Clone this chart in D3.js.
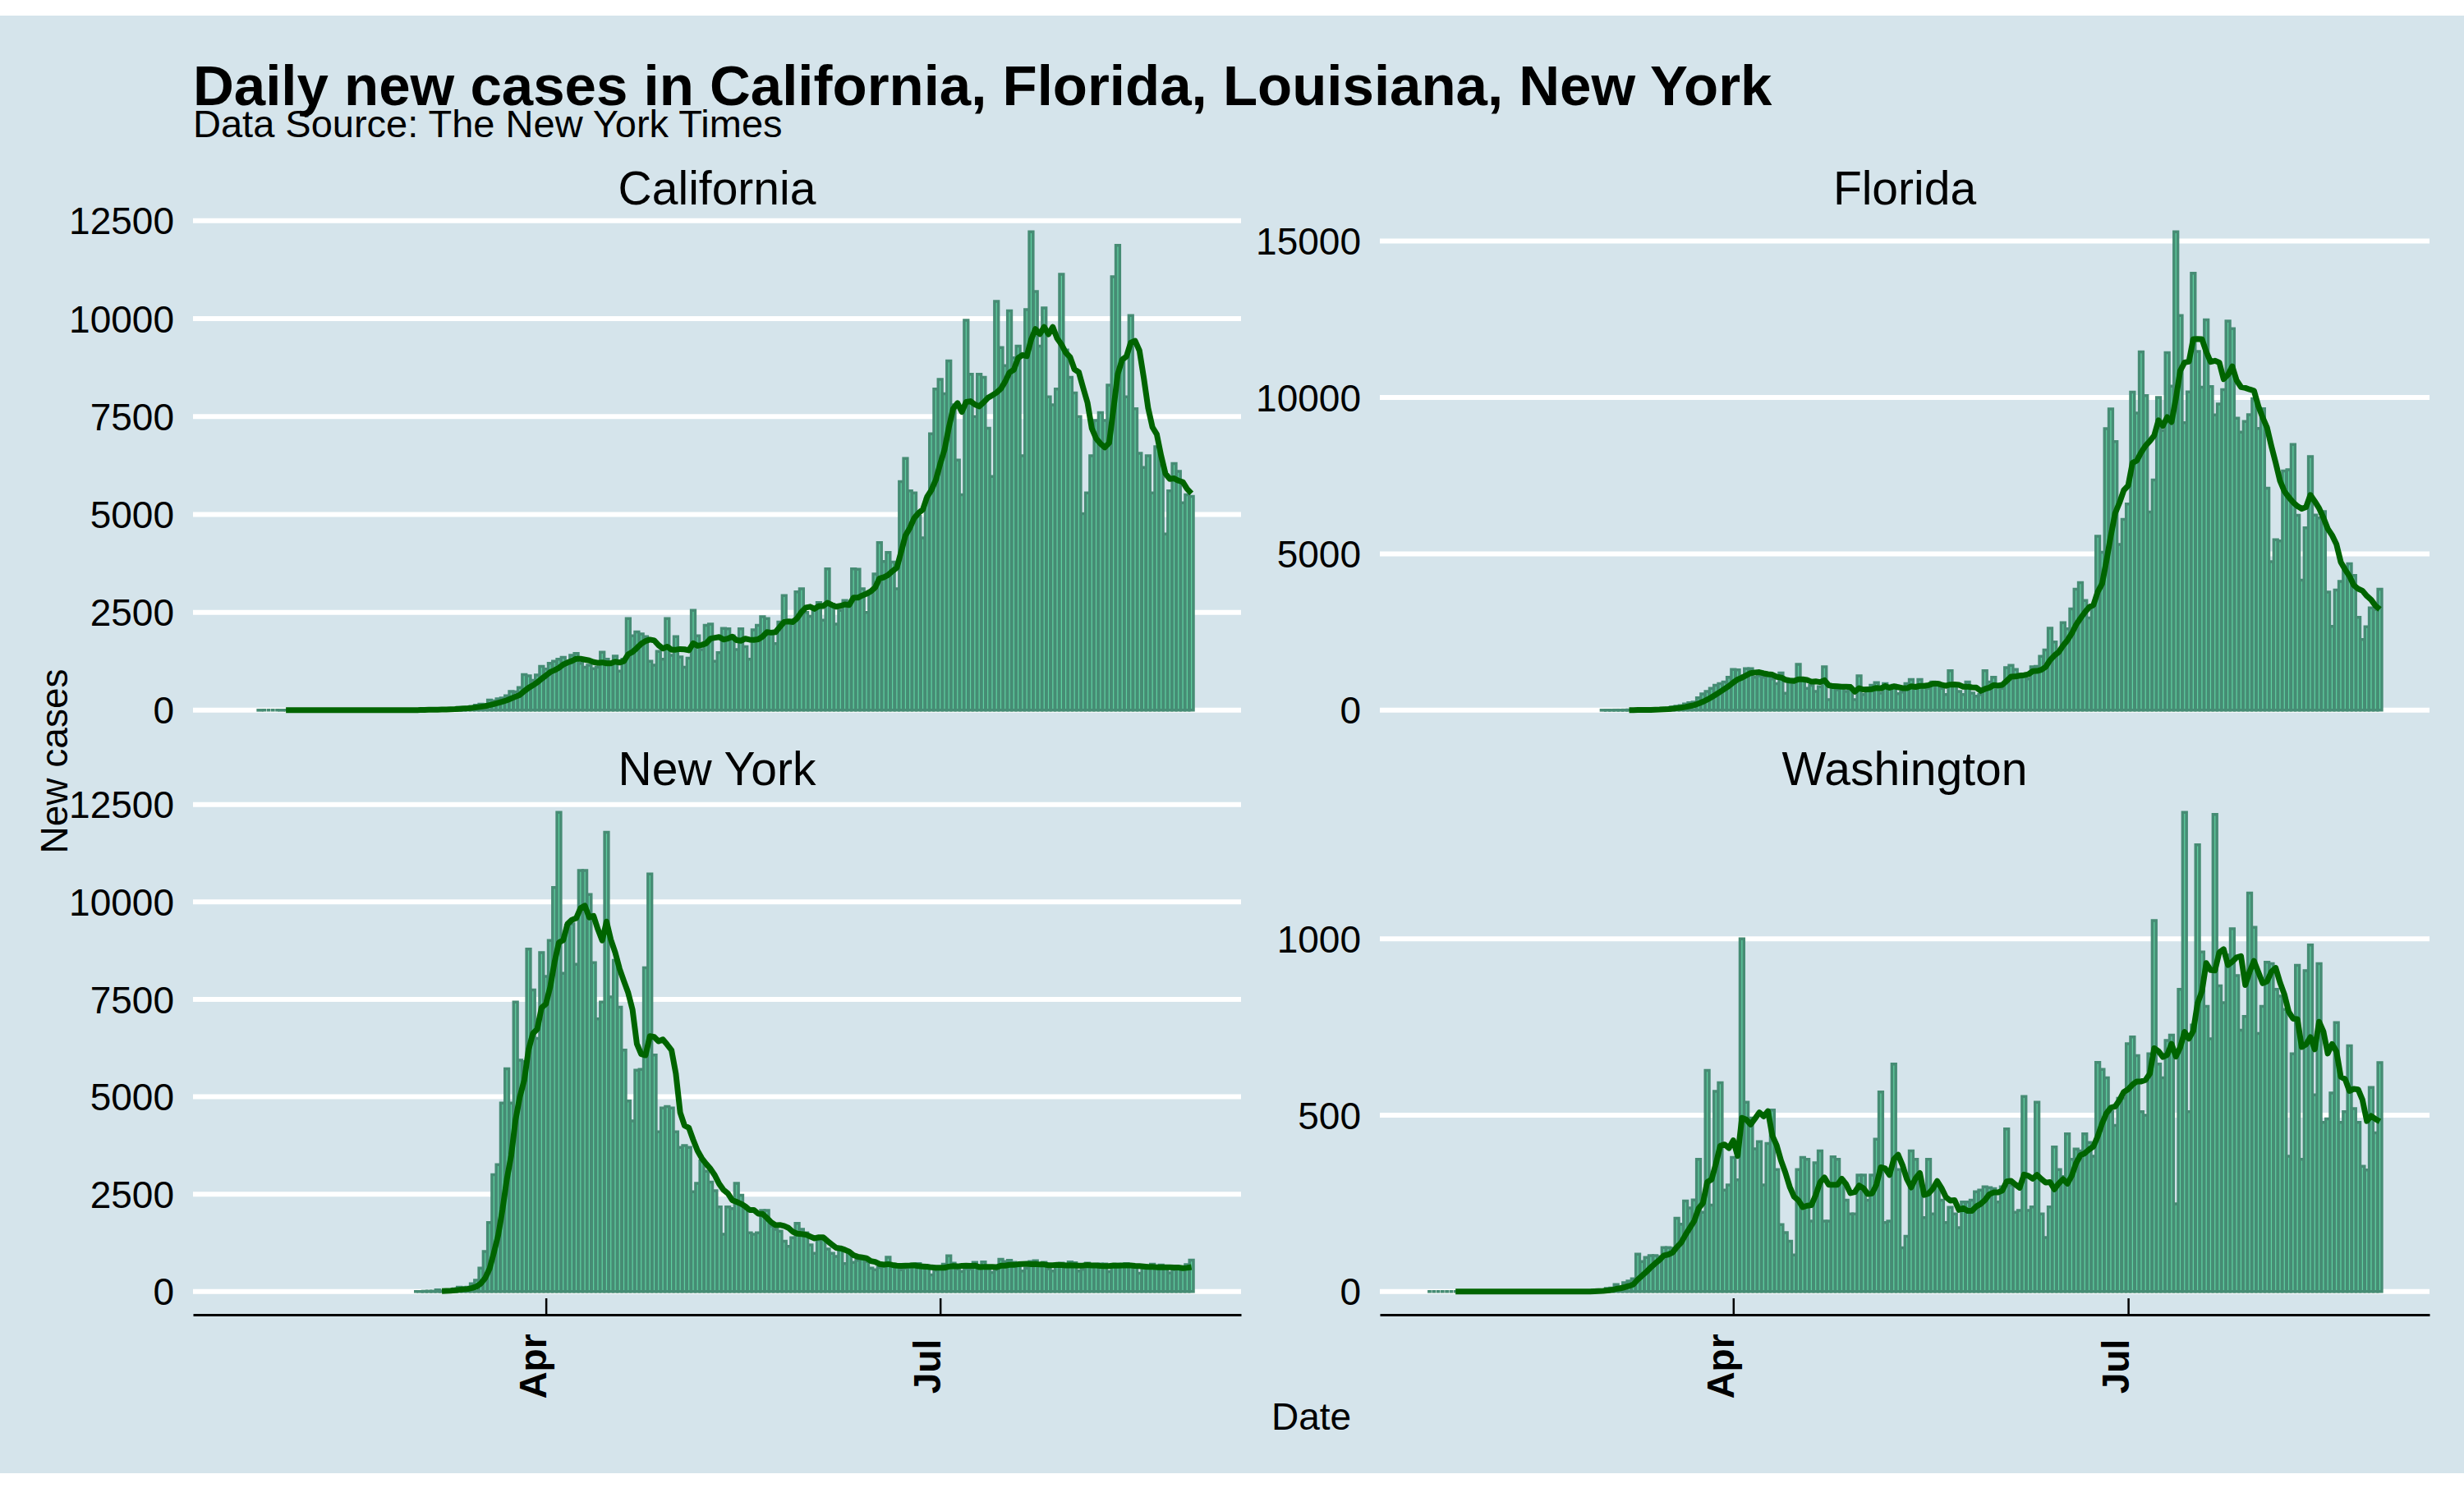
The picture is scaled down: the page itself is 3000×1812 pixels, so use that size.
<!DOCTYPE html>
<html>
<head>
<meta charset="utf-8">
<script src="https://cdn.jsdelivr.net/npm/d3@7/dist/d3.min.js"></script>
<style>
html,body{margin:0;padding:0;background:#ffffff;}
svg{display:block;font-family:"Liberation Sans",Arial,Helvetica,sans-serif;}
</style>
</head>
<body>
<svg id="chart" width="3000" height="1812"></svg>
<script>
// ---------------- data ----------------
const stateNames = ["California", "Florida", "New York", "Washington"];
const chartTitle = "Daily new cases in California, Florida, Louisiana, New York";
const chartSubtitle = "Data Source: The New York Times";
const xAxisTitle = "Date";
const yAxisTitle = "New cases";

const caStart = "2020-01-26";
const caCases = [
  1,0,0,0,0,1,
  0,3,0,0,0,0,0,0,0,0,0,0,0,0,0,0,0,0,0,1,2,0,0,0,0,2,1,2,3,
  7,12,10,18,20,15,25,22,30,45,40,70,65,75,90,130,155,150,260,240,290,310,370,480,470,580,910,880,760,900,1120,
  1050,1200,1250,1300,1350,1250,1400,1450,1200,1100,1150,1060,1100,1480,1300,1200,1380,1000,1300,2340,1900,2000,1950,1880,1250,1150,1500,1300,2340,1400,
  1880,1360,1100,1330,2550,1900,1550,2170,2200,1250,1470,2090,2080,1900,1550,2080,1620,1300,2050,2170,2390,2340,2000,1700,2250,2930,2250,2300,3020,3100,2500,
  2400,2550,2750,2300,3610,2700,2200,2550,2800,2650,3610,3600,3100,2500,3000,3480,4280,3800,4030,3780,3100,5840,6430,5600,5550,4950,4400,5400,7060,8200,
  8450,8080,8920,7800,6390,5500,9960,8580,7500,8580,8500,7200,5970,10440,9260,8800,10200,9000,9300,6500,10230,12220,10690,9300,10270,8000,7800,8200,11130,9200,8500,
  8100,7500,5020,5550,6500,7400,7600,7400,8300,11070,11870,9000,8000,10080,7700,6560,6200,6500,5550,6730,6260,4500,5600,6300,6100,5300,5500,5460
];

const flStart = "2020-03-02";
const flCases = [
  2,3,2,5,4,7,10,5,13,7,20,25,40,35,55,70,100,130,150,200,240,260,400,520,600,700,800,850,900,1050,
  1300,1290,1100,1330,1330,1050,1100,1050,1100,1000,850,1190,540,900,980,1465,1000,700,800,600,750,1390,340,800,650,750,600,680,340,1100,
  500,700,800,880,550,850,760,800,530,580,850,980,720,980,800,700,900,880,700,500,1260,820,600,500,900,550,450,500,1260,900,1050,
  800,700,1360,1435,1300,1100,1150,1000,1390,1400,1720,1925,2620,2180,1800,2800,2600,3240,3870,4080,3510,2950,3300,5560,5050,9000,9630,8590,5300,6100,
  6590,10170,9500,11460,10060,6340,7360,10000,8940,11430,10360,15300,12620,9190,10180,13970,11470,10330,12480,10350,9440,9790,10250,12440,12200,9340,8890,9230,9450,9960,9010,
  9640,7100,4750,5450,5410,7650,7690,8500,6230,4160,5830,8110,6240,6150,6350,3780,2680,3840,4120,4560,4680,4310,2970,2260,2670,3270,3220,3870
];

const nyStart = "2020-03-02";
const nyCases = [
  0,1,9,11,11,44,16,37,31,70,112,95,110,200,290,600,1030,1770,3000,3260,4840,5720,4840,7430,5940,5900,8790,7740,6500,8700,
  8090,9010,10370,12300,8170,9400,9440,8400,10810,10810,10190,8440,7000,7430,11790,7560,8500,7300,6200,4890,4380,5680,5700,8310,10720,6070,4100,4710,4750,4710,
  4100,3700,3750,3700,2560,2780,3350,3090,2810,2590,2170,1470,2170,2130,2780,2470,2130,1510,1470,1510,2080,2080,1680,1600,1550,1290,1160,1380,1750,1600,1510,
  1200,980,1330,1380,1090,980,900,1110,720,1000,750,800,850,770,600,560,620,650,880,700,660,560,600,630,700,720,650,620,430,550,
  620,700,920,730,580,520,590,580,750,660,760,590,490,560,830,770,800,750,700,530,600,770,790,720,750,580,530,670,730,700,760,
  740,530,570,730,650,700,710,710,510,680,700,680,720,690,640,470,600,630,700,650,680,620,480,560,620,620,690,810
];

const waStart = "2020-01-22";
const waCases = [
  0,0,0,0,0,0,0,0,0,0,
  0,0,0,0,0,0,0,0,0,0,0,0,0,0,0,0,0,0,0,0,0,0,0,0,0,0,0,1,4,
  5,4,9,10,20,14,25,30,36,106,85,97,102,102,99,125,125,123,208,191,257,237,260,375,225,627,245,568,592,288,302,
  380,317,1000,537,492,405,425,302,420,515,346,190,167,143,104,346,380,375,200,365,399,200,200,382,375,318,259,220,220,330,
  330,259,330,432,566,196,200,645,346,124,157,399,375,307,210,375,220,307,259,196,239,220,181,254,254,259,283,288,297,295,292,
  254,297,461,302,225,230,553,230,240,537,220,153,240,410,346,326,447,375,404,399,447,423,384,650,630,606,510,471,548,548,
  703,722,669,510,500,674,1052,645,606,712,727,249,857,1359,510,756,1267,963,809,717,1353,867,819,954,1029,896,741,780,1130,1033,732,
  809,934,930,857,838,800,384,674,925,375,910,983,558,930,480,490,563,763,480,510,697,519,480,355,345,579,450,649
];

const caTicks = [0, 2500, 5000, 7500, 10000, 12500];
const flTicks = [0, 5000, 10000, 15000];
const nyTicks = [0, 2500, 5000, 7500, 10000, 12500];
const waTicks = [0, 500, 1000];

const xTickDates = ["2020-04-01", "2020-07-01"];
const xTickLabels = ["Apr", "Jul"];

// ---------------- drawing ----------------
const FONT = '"Liberation Sans", Arial, Helvetica, sans-serif';
const W = 3000, H = 1812;
const svg = d3.select("#chart");
const parse = d3.utcParse("%Y-%m-%d");
const DAY = 864e5;

svg.append("rect").attr("x", 0).attr("y", 19).attr("width", W).attr("height", 1775).attr("fill", "#d5e4eb");

const series = [
  {name: stateNames[0], start: caStart, values: caCases, ticks: caTicks},
  {name: stateNames[1], start: flStart, values: flCases, ticks: flTicks},
  {name: stateNames[2], start: nyStart, values: nyCases, ticks: nyTicks},
  {name: stateNames[3], start: waStart, values: waCases, ticks: waTicks}
].map(s => {
  const s0 = parse(s.start);
  const rows = s.values.map((v, i) => ({date: new Date(+s0 + i * DAY), value: v}));
  const ma = [];
  for (let i = 6; i < rows.length; i++) {
    ma.push({date: rows[i].date, value: d3.mean(rows.slice(i - 6, i + 1), r => r.value)});
  }
  return Object.assign({}, s, {rows, ma});
});

const allDates = series.flatMap(s => s.rows.map(r => +r.date));
const lo = d3.min(allDates) - 0.45 * DAY, hi = d3.max(allDates) + 0.45 * DAY;
const pad = 0.05 * (hi - lo);

const colX = [[235, 1511], [1680, 2958]];
const rowY = [[253, 894], [960, 1602]];

// title & subtitle
svg.append("text").attr("x", 235).attr("y", 128).attr("font-family", FONT)
  .attr("font-size", 69).attr("font-weight", "bold").attr("fill", "#000").text(chartTitle);
svg.append("text").attr("x", 235).attr("y", 167).attr("font-family", FONT)
  .attr("font-size", 47).attr("fill", "#000").text(chartSubtitle);

series.forEach((s, i) => {
  const c = i % 2, r = Math.floor(i / 2);
  const [x0, x1] = colX[c], [y0, y1] = rowY[r];
  const x = d3.scaleUtc().domain([new Date(lo - pad), new Date(hi + pad)]).range([x0, x1]);
  const vmax = d3.max(s.values);
  const y = d3.scaleLinear().domain([-0.05 * vmax, 1.05 * vmax]).range([y1, y0]);
  const g = svg.append("g");

  g.selectAll("line.grid").data(s.ticks).join("line").attr("class", "grid")
    .attr("x1", x0).attr("x2", x1).attr("y1", d => y(d)).attr("y2", d => y(d))
    .attr("stroke", "#ffffff").attr("stroke-width", 6);

  g.selectAll("text.ytick").data(s.ticks).join("text").attr("class", "ytick")
    .attr("x", x0 - 23).attr("y", d => y(d)).attr("dy", "0.36em")
    .attr("text-anchor", "end").attr("font-family", FONT).attr("font-size", 46).attr("fill", "#000")
    .text(d => d);

  g.selectAll("path.bar").data(s.rows).join("path").attr("class", "bar")
    .attr("d", d => {
      const xl = x(new Date(+d.date - 0.45 * DAY)), xr = x(new Date(+d.date + 0.45 * DAY));
      const yb = y(0), yt = y(d.value);
      return `M${xl},${yb}V${yt}H${xr}V${yb}Z`;
    })
    .attr("fill", "#5fcfa0").attr("stroke", "#468c74").attr("stroke-width", 3.5);

  g.append("path").datum(s.ma)
    .attr("d", d3.line().x(d => x(d.date)).y(d => y(d.value)))
    .attr("fill", "none").attr("stroke", "#006400").attr("stroke-width", 7)
    .attr("stroke-linejoin", "round");

  g.append("text").attr("x", (x0 + x1) / 2).attr("y", y0 - 4).attr("text-anchor", "middle")
    .attr("font-family", FONT).attr("font-size", 57).attr("fill", "#000").text(s.name);

  if (r === 1) {
    const ax = d3.axisBottom(x).tickValues(xTickDates.map(parse))
      .tickFormat((d, j) => xTickLabels[j]).tickSizeInner(-20).tickSizeOuter(0);
    const ag = g.append("g").attr("transform", `translate(0,${y1 - 1})`).call(ax);
    ag.attr("font-family", FONT).attr("font-size", 46);
    ag.select(".domain").attr("stroke", "#000").attr("stroke-width", 3);
    ag.selectAll(".tick line").attr("stroke", "#000").attr("stroke-width", 2.5);
    ag.selectAll(".tick text").attr("y", null).attr("dy", null)
      .attr("transform", "translate(0,63) rotate(-90)")
      .attr("text-anchor", "middle").attr("font-weight", "bold").attr("fill", "#000");
  }
});

svg.append("text").attr("x", (colX[0][0] + colX[1][1]) / 2).attr("y", 1741).attr("text-anchor", "middle")
  .attr("font-family", FONT).attr("font-size", 46).attr("fill", "#000").text(xAxisTitle);
svg.append("text").attr("transform", "translate(82,927) rotate(-90)").attr("text-anchor", "middle")
  .attr("font-family", FONT).attr("font-size", 46).attr("fill", "#000").text(yAxisTitle);
</script>
</body>
</html>
